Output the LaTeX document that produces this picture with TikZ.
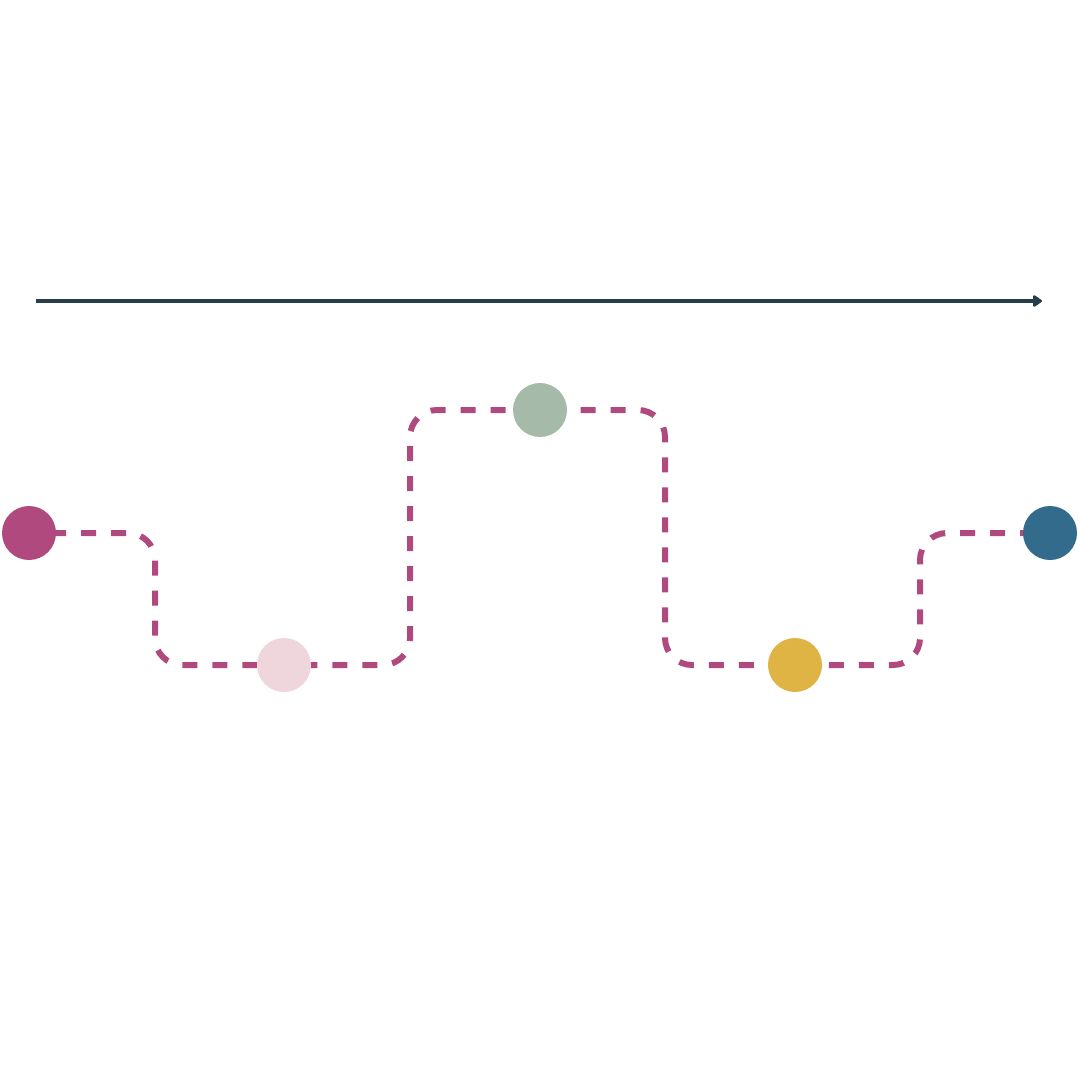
\documentclass[tikz,border=0pt]{standalone}
\usetikzlibrary{arrows.meta,backgrounds}
\definecolor{axis}{HTML}{263D4A}
\definecolor{route}{HTML}{B04A7E}
\definecolor{cA}{HTML}{B04A7E}
\definecolor{cB}{HTML}{EFD5DC}
\definecolor{cC}{HTML}{A5BAA8}
\definecolor{cD}{HTML}{E0B444}
\definecolor{cE}{HTML}{336B8C}
\begin{document}
\begin{tikzpicture}[x=1pt,y=-1pt,
  stop/.style={circle,inner sep=0pt,minimum size=54pt},
  routeline/.style={route,line width=6pt,dash pattern=on 15pt off 15pt,dash phase=-22pt,rounded corners=27pt}]
\useasboundingbox (0,0) rectangle (1080,1080);
\coordinate (ts) at (36,301);
\coordinate (te) at (1042,301);
\draw[axis,line width=4.5pt,-{Triangle[length=10pt,width=13pt,round]}] (ts) -- (te);
\node[stop,fill=cA] (a) at (29,533) {};
\node[stop,fill=cB] (b) at (284,665) {};
\node[stop,fill=cC] (c) at (540,410) {};
\node[stop,fill=cD] (d) at (795,665) {};
\node[stop,fill=cE] (e) at (1050,533) {};
\begin{pgfonlayer}{background}
\fill[white] (0,0) rectangle (1080,1080);
\draw[routeline] (a.center) -- (155,533) -- (155,665) -- (b.center) -- (410,665) -- (410,410) -- (c.center) -- (665,410) -- (665,665) -- (d.center) -- (920,665) -- (920,533) -- (e.center);
\end{pgfonlayer}
\end{tikzpicture}
\end{document}
